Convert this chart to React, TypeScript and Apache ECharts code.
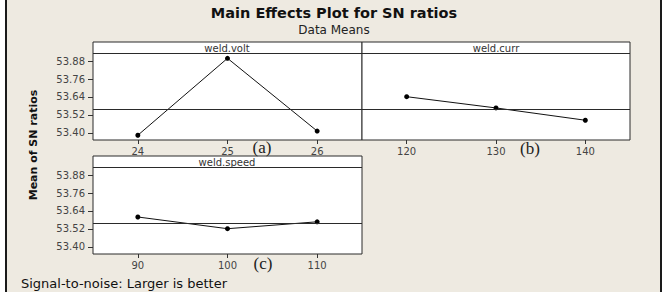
import React, { useEffect, useRef } from "react";
import * as echarts from "echarts";

const voltLevels = [24, 25, 26];
const voltMeans = [53.385, 53.898, 53.413];
const currLevels = [120, 130, 140];
const currMeans = [53.642, 53.567, 53.485];
const speedLevels = [90, 100, 110];
const speedMeans = [53.6, 53.522, 53.568];
const grandMean = 53.565;
const yTicks = [53.4, 53.52, 53.64, 53.76, 53.88];
const panelNames = ["weld.volt", "weld.curr", "weld.speed"];
const panelTags = ["(a)", "(b)", "(c)"];

const Y_MIN = 53.3533;
const Y_MAX = 54.0067;
const STRIP_Y = 53.9267;
const FONT = "DejaVu Sans";

export default function App() {
  const ref = useRef<HTMLDivElement>(null);
  useEffect(() => {
    const chart = echarts.init(ref.current!, null, { renderer: "svg" });
    const grids = [
      { left: 93, top: 42, width: 269, height: 98 },
      { left: 362, top: 42, width: 268, height: 98 },
      { left: 93, top: 156, width: 269, height: 98 },
    ].map((g) => ({ ...g, show: true, backgroundColor: "#fff", borderColor: "#2a2a2a", borderWidth: 1 }));

    const levelSets = [voltLevels, currLevels, speedLevels];
    const meanSets = [voltMeans, currMeans, speedMeans];
    const steps = [1, 10, 10];

    const xAxes = levelSets.map((lv, i) => ({
      type: "value",
      gridIndex: i,
      min: lv[0] - steps[i] / 2,
      max: lv[lv.length - 1] + steps[i] / 2,
      axisLine: { show: false },
      splitLine: { show: false },
      axisTick: { show: true, customValues: lv, length: 4, lineStyle: { color: "#333" } },
      axisLabel: { customValues: lv, margin: 6, fontSize: 10, color: "#444", fontFamily: FONT },
    }));
    const yAxes = [0, 1, 2].map((i) => ({
      type: "value",
      gridIndex: i,
      min: Y_MIN,
      max: Y_MAX,
      axisLine: { show: false },
      splitLine: { show: false },
      axisTick: { show: i !== 1, customValues: yTicks, length: 5, lineStyle: { color: "#333" } },
      axisLabel: {
        show: i !== 1,
        customValues: yTicks,
        margin: 8,
        fontSize: 10,
        color: "#444",
        fontFamily: FONT,
        formatter: (v: number) => v.toFixed(2),
      },
    }));
    const series = levelSets.map((lv, i) => ({
      type: "line",
      xAxisIndex: i,
      yAxisIndex: i,
      data: lv.map((x, j) => [x, meanSets[i][j]]),
      symbol: "circle",
      symbolSize: 5,
      itemStyle: { color: "#000" },
      lineStyle: { color: "#111", width: 1 },
      markLine: {
        silent: true,
        symbol: "none",
        label: { show: false },
        lineStyle: { color: "#2a2a2a", width: 1, type: "solid" },
        data: [{ yAxis: grandMean }, { yAxis: STRIP_Y }],
      },
    }));

    const stripCenters = [
      [227, 48],
      [496, 48],
      [227, 162],
    ];
    const tagPos = [
      [262, 147],
      [530, 148],
      [263, 263],
    ];
    const graphic: any[] = [
      { type: "rect", shape: { x: 6, y: -2, width: 655, height: 296 }, style: { fill: "#eeeae1", stroke: "#1a1a1a", lineWidth: 2 }, z: -10 },
    ];
    panelNames.forEach((n, i) => {
      graphic.push({
        type: "text",
        x: stripCenters[i][0],
        y: stripCenters[i][1],
        style: { text: n, fontSize: 10, fontFamily: FONT, fill: "#333", align: "center", verticalAlign: "middle" },
        z: 10,
      });
      graphic.push({
        type: "text",
        x: tagPos[i][0],
        y: tagPos[i][1],
        style: { text: panelTags[i], fontSize: 17, fontFamily: "Liberation Serif", fill: "#222", align: "center", verticalAlign: "middle" },
        z: 10,
      });
    });
    graphic.push({
      type: "text",
      x: 33,
      y: 145,
      rotation: Math.PI / 2,
      style: { text: "Mean of SN ratios", fontSize: 11, fontWeight: "bold", fontFamily: FONT, fill: "#111", align: "center", verticalAlign: "middle" },
    });
    graphic.push({
      type: "text",
      x: 21,
      y: 283,
      style: { text: "Signal-to-noise: Larger is better", fontSize: 13, fontFamily: FONT, fill: "#111", align: "left", verticalAlign: "middle" },
    });
    graphic.push({
      type: "text",
      x: 334,
      y: 13,
      style: { text: "Main Effects Plot for SN ratios", fontSize: 14.5, fontWeight: "bold", fontFamily: FONT, fill: "#111", align: "center", verticalAlign: "middle" },
    });
    graphic.push({
      type: "text",
      x: 334,
      y: 30,
      style: { text: "Data Means", fontSize: 12, fontFamily: FONT, fill: "#222", align: "center", verticalAlign: "middle" },
    });

    chart.setOption({
      animation: false,
      backgroundColor: "#fff",
      grid: grids,
      xAxis: xAxes,
      yAxis: yAxes,
      series,
      graphic,
    });
    return () => chart.dispose();
  }, []);
  return <div ref={ref} style={{ position: "fixed", left: 0, top: 0, width: 668, height: 292 }} />;
}
